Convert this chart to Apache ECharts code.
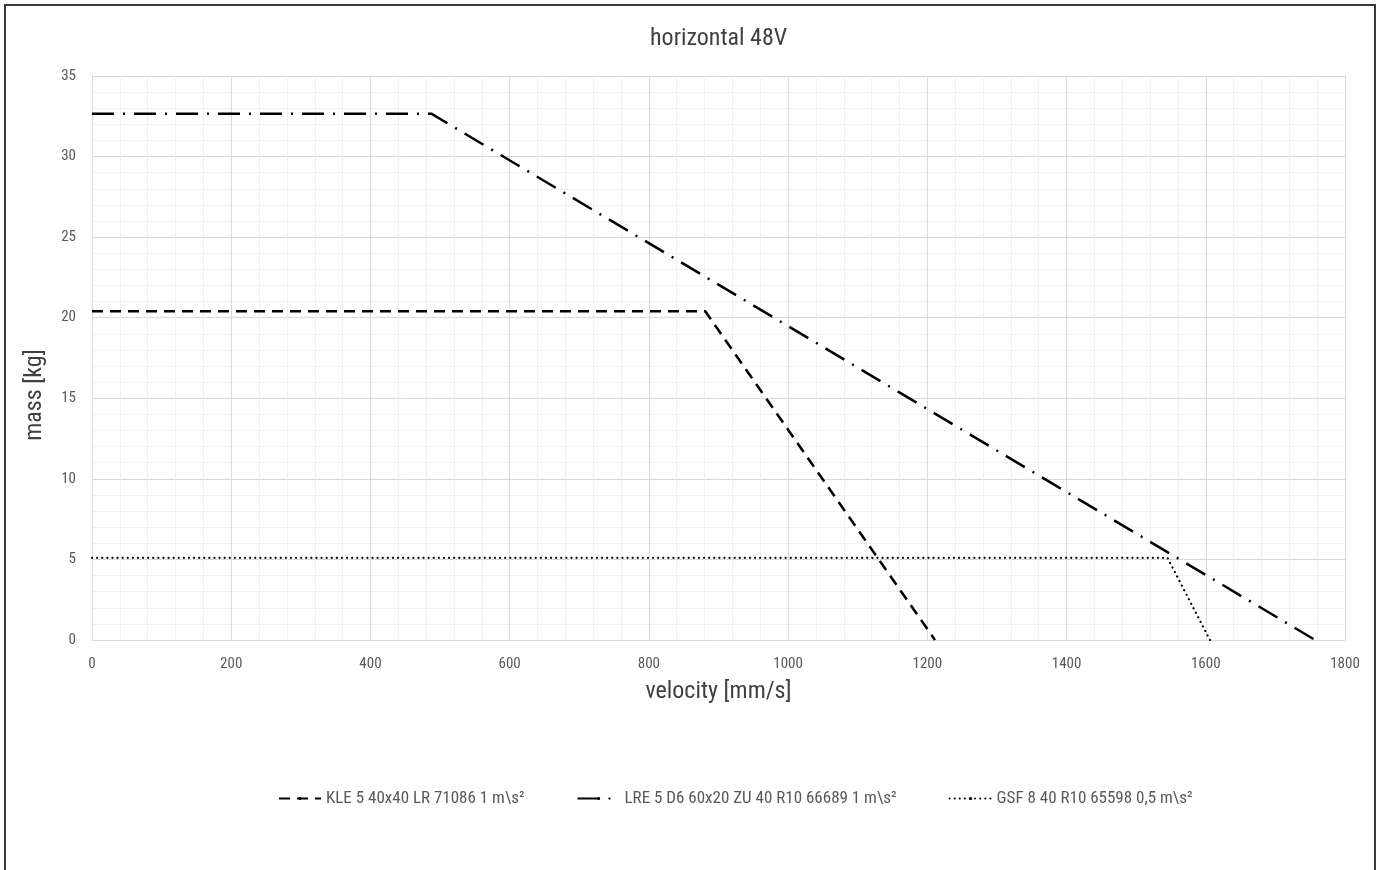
<!DOCTYPE html>
<html>
<head>
<meta charset="utf-8">
<script src="https://cdn.jsdelivr.net/npm/echarts@6/dist/echarts.min.js"></script>
<style>
html,body{margin:0;padding:0;background:#fff;width:1380px;height:870px;overflow:hidden;}
#frame{position:absolute;left:4px;top:4px;width:1372px;height:900px;border:2px solid #3a3a3a;box-sizing:border-box;}
#chart{position:absolute;left:0;top:0;width:1380px;height:870px;}
</style>
</head>
<body>
<div id="frame"></div>
<div id="chart"></div>
<script>
const chartTitle = 'horizontal 48V';
const xAxisName = 'velocity [mm/s]';
const yAxisName = 'mass [kg]';
const seriesNames = ['KLE 5 40x40 LR 71086 1 m\\s²', 'LRE 5 D6 60x20 ZU 40 R10 66689 1 m\\s²', 'GSF 8 40 R10 65598 0,5 m\\s²'];
const kleVelocity = [0, 881, 1211];
const kleMass = [20.4, 20.4, 0];
const lreVelocity = [0, 488, 1757];
const lreMass = [32.65, 32.65, 0];
const gsfVelocity = [0, 1545, 1606];
const gsfMass = [5.1, 5.1, 0];

const FONT = "'Liberation Sans Narrow','Roboto Condensed','Arial Narrow','Liberation Sans',sans-serif";
const pair = (xs, ys) => xs.map((x, i) => [x, ys[i]]);

const chart = echarts.init(document.getElementById('chart'), null, {renderer: 'canvas'});
const txt = '#595959';
chart.setOption({
  animation: false,
  backgroundColor: 'transparent',
  textStyle: {fontFamily: FONT},
  title: {
    text: chartTitle, left: 645, top: 22,
    textStyle: {fontFamily: FONT, fontSize: 24, fontWeight: 'normal', color: '#404040'}
  },
  grid: {left: 92, right: 35, top: 76, bottom: 230},
  legend: {
    bottom: 58, left: 273, itemGap: 52, itemWidth: 42, itemHeight: 4,
    textStyle: {fontFamily: FONT, fontSize: 17, color: txt},
    data: seriesNames
  },
  xAxis: {
    type: 'value', min: 0, max: 1800, interval: 200,
    name: xAxisName, nameLocation: 'middle', nameGap: 40,
    nameTextStyle: {fontFamily: FONT, fontSize: 24, color: '#404040'},
    axisLine: {show: true, lineStyle: {color: '#d9d9d9'}},
    axisTick: {show: false},
    axisLabel: {color: txt, fontSize: 15, margin: 17, fontFamily: FONT, formatter: v => String(v)},
    splitLine: {show: true, lineStyle: {color: '#d9d9d9', width: 1}},
    minorTick: {show: false, splitNumber: 5},
    minorSplitLine: {show: true, lineStyle: {color: '#f0f0f0', width: 1}}
  },
  yAxis: {
    type: 'value', min: 0, max: 35, interval: 5,
    name: yAxisName, nameLocation: 'middle', nameGap: 45, nameRotate: 90,
    nameTextStyle: {fontFamily: FONT, fontSize: 24, color: '#404040', padding: [0, 74, 0, 0]},
    axisLine: {show: true, lineStyle: {color: '#d9d9d9'}},
    axisTick: {show: false},
    axisLabel: {color: txt, fontSize: 15, margin: 16, fontFamily: FONT, formatter: v => String(v)},
    splitLine: {show: true, lineStyle: {color: '#d9d9d9', width: 1}},
    minorTick: {show: false, splitNumber: 5},
    minorSplitLine: {show: true, lineStyle: {color: '#f0f0f0', width: 1}}
  },
  series: [
    {
      name: seriesNames[0], type: 'line', data: pair(kleVelocity, kleMass),
      symbol: 'none', color: '#000',
      lineStyle: {color: '#000', width: 2.5, type: [11, 7]}
    },
    {
      name: seriesNames[1], type: 'line', data: pair(lreVelocity, lreMass),
      symbol: 'none', color: '#000',
      lineStyle: {color: '#000', width: 2.5, type: [22, 9, 2, 9]}
    },
    {
      name: seriesNames[2], type: 'line', data: pair(gsfVelocity, gsfMass),
      symbol: 'none', color: '#000',
      lineStyle: {color: '#000', width: 2.2, type: [0.1, 5], cap: 'round'}
    }
  ]
});
</script>
</body>
</html>
